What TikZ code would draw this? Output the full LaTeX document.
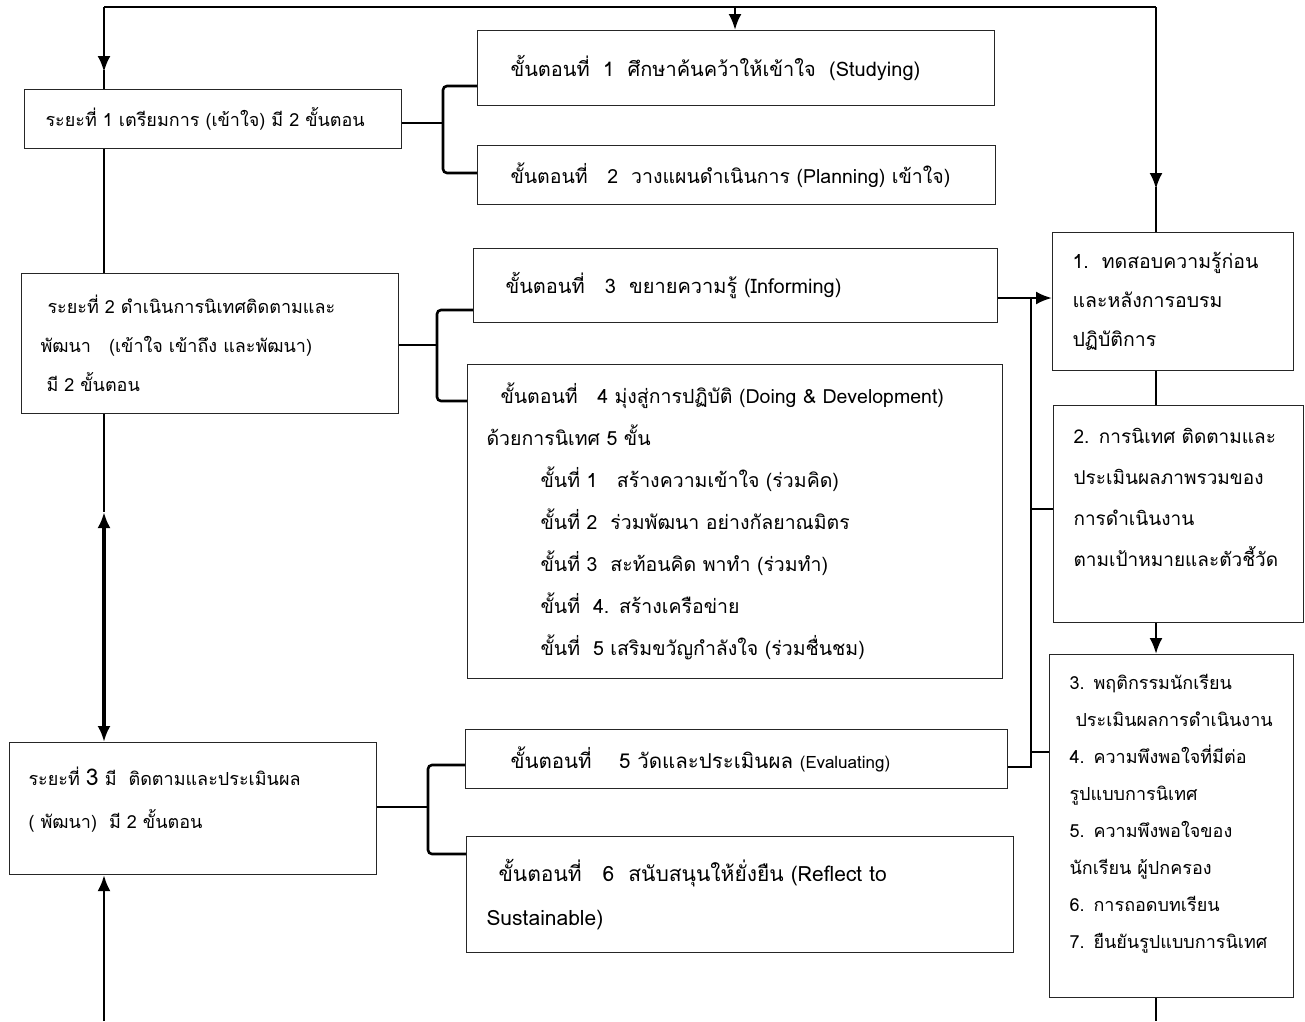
\documentclass[tikz,border=0pt]{standalone}
\usepackage{fontspec}
\setmainfont[Script=Thai]{Loma}
\usetikzlibrary{arrows.meta}

\tikzset{
  box/.style={draw=black!85, line width=1.1pt, anchor=north west, align=left, inner xsep=0pt, inner ysep=0pt},
  conn/.style={line width=2.6pt},
}

\begin{document}
\begin{tikzpicture}[x=1pt,y=-1pt,>={Latex[length=16pt,width=13pt]}]
        \useasboundingbox (0,0) rectangle (1305,1021);

        % the three phases on the left
        \node[box, minimum width=377pt, minimum height=59pt, text width=335pt, font=\fontsize{18}{39}\selectfont] (p1) at (24,89)
            {ระยะที่ 1 เตรียมการ (เข้าใจ) มี 2 ขั้นตอน};
        \node[box, minimum width=377pt, minimum height=140pt, text width=339pt, font=\fontsize{18}{39}\selectfont] (p2) at (21,273)
            {\hspace*{7pt}ระยะที่ 2 ดำเนินการนิเทศติดตามและ\\
             พัฒนา\ \ \ (เข้าใจ เข้าถึง และพัฒนา)\\
             \hspace*{6pt}มี 2 ขั้นตอน};
        \node[box, minimum width=367pt, minimum height=132pt, text width=329pt, font=\fontsize{18}{43}\selectfont] (p3) at (9,742)
            {ระยะที่ {\fontsize{23}{43}\selectfont 3} มี\ \ ติดตามและประเมินผล\\
             ( พัฒนา)\ \ มี 2 ขั้นตอน\\[-22pt]\mbox{}};

        % the six steps
        \node[box, minimum width=517pt, minimum height=75pt, text width=451pt, font=\fontsize{20}{42}\selectfont] (s1) at (477,30)
            {ขั้นตอนที่\ \ 1\ \ ศึกษาค้นคว้าให้เข้าใจ\ \ (Studying)};
        \node[box, minimum width=518pt, minimum height=59pt, text width=452pt, font=\fontsize{19.5}{42}\selectfont] (s2) at (477,145)
            {ขั้นตอนที่\ \ \ 2\ \ วางแผนดำเนินการ (Planning) เข้าใจ)};
        \node[box, minimum width=524pt, minimum height=74pt, text width=460pt, font=\fontsize{20}{42}\selectfont] (s3) at (473,248)
            {ขั้นตอนที่\ \ \ 3\ \ ขยายความรู้ (Informing)};
        \node[box, minimum width=535pt, minimum height=314pt, text width=497pt, font=\fontsize{19.5}{42}\selectfont] (s4) at (467,364)
            {\hspace*{14pt}ขั้นตอนที่\ \ \ 4 มุ่งสู่การปฏิบัติ (Doing \& Development)\\
             ด้วยการนิเทศ 5 ขั้น\\
             \hspace*{54pt}ขั้นที่ 1\ \ \ สร้างความเข้าใจ (ร่วมคิด)\\
             \hspace*{54pt}ขั้นที่ 2\ \ ร่วมพัฒนา อย่างกัลยาณมิตร\\
             \hspace*{54pt}ขั้นที่ 3\ \ สะท้อนคิด พาทำ (ร่วมทำ)\\
             \hspace*{54pt}ขั้นที่\ \ 4. สร้างเครือข่าย\\
             \hspace*{54pt}ขั้นที่\ \ 5 เสริมขวัญกำลังใจ (ร่วมชื่นชม)};
        \node[box, minimum width=542pt, minimum height=59pt, text width=452pt, font=\fontsize{20.5}{42}\selectfont] (s5) at (465,729)
            {ขั้นตอนที่\ \ \ \ 5 วัดและประเมินผล {\fontsize{17}{42}\selectfont (Evaluating)}};
        \node[box, minimum width=547pt, minimum height=116pt, text width=507pt, font=\fontsize{21}{44}\selectfont] (s6) at (466,836)
            {\hspace*{12pt}ขั้นตอนที่\ \ \ 6\ \ สนับสนุนให้ยั่งยืน (Reflect to\\
             Sustainable)};

        % the results on the right
        \node[box, minimum width=241pt, minimum height=138pt, text width=201pt, font=\fontsize{19.5}{39}\selectfont] (r1) at (1052,232)
            {1.\ \ ทดสอบความรู้ก่อน\\และหลังการอบรม\\ปฏิบัติการ};
        \node[box, minimum width=250pt, minimum height=217pt, text width=210pt, font=\fontsize{19}{41}\selectfont] (r2) at (1053,405)
            {2. การนิเทศ ติดตามและ\\ประเมินผลภาพรวมของ\\การดำเนินงาน\\ตามเป้าหมายและตัวชี้วัด\\[-8pt]\mbox{}};
        \node[box, minimum width=244pt, minimum height=343pt, text width=204pt, font=\fontsize{18}{37}\selectfont] (r3) at (1049,654)
            {3. พฤติกรรมนักเรียน\\
             \hspace*{6pt}ประเมินผลการดำเนินงาน\\
             4. ความพึงพอใจที่มีต่อ\\
             รูปแบบการนิเทศ\\
             5. ความพึงพอใจของ\\
             นักเรียน ผู้ปกครอง\\
             6. การถอดบทเรียน\\
             7. ยืนยันรูปแบบการนิเทศ\\[-8pt]\mbox{}};

        % the loop along the top
        \coordinate (tl) at (104,7);
        \coordinate (tm) at (735,7);
        \coordinate (tr) at (1156,7);
        \draw[conn] (tl) -- (tr);
        \draw[conn,->] (tl) -- (104,72);
        \draw[conn] (104,70) -- (tl |- p1.north);
        \draw[conn,->] (tm) -- (tm |- s1.north);
        \draw[conn,->] (tr) -- (1156,189);
        \draw[conn] (1156,187) -- (tr |- r1.north);

        % the line down the left side
        \coordinate (up) at (104,512);
        \coordinate (bl) at (104,1021);
        \draw[conn] (tl |- p1.south) -- (tl |- p2.north);
        \draw[conn] (tl |- p2.south) -- (up);
        \draw[line width=3.2pt,<->] (up) -- (tl |- p3.north);
        \draw[conn,->] (bl) -- (tl |- p3.south);

        % the line down the right side
        \coordinate (br) at (1156,1021);
        \draw[conn] (tr |- r1.south) -- (tr |- r2.north);
        \draw[conn,->] (tr |- r2.south) -- (tr |- r3.north);
        \draw[conn] (tr |- r3.south) -- (br);

        % brackets from each phase to its two steps
        \foreach \p/\a/\b/\x/\y/\ya/\yb in {p1/s1/s2/443/123/86/173, p2/s3/s4/437/345/310/401, p3/s5/s6/428/807/765/854} {
                \draw[conn] (\p.east |- 0,\y) -- (\x,\y);
                \draw[conn,rounded corners=4pt] (\a.west |- 0,\ya) -- (\x,\ya) -- (\x,\yb) -- (\b.west |- 0,\yb);
        }

        % the bus from steps 3 and 5 to the results
        \draw[conn,->] (s3.east |- 0,298) -- (r1.west |- 0,298);
        \draw[conn] (s5.east |- 0,767) -| (1031,298);
        \foreach \r/\y in {r2/509, r3/752}
                \draw[conn] (1031,\y) -- (\r.west |- 0,\y);
\end{tikzpicture}
\end{document}
